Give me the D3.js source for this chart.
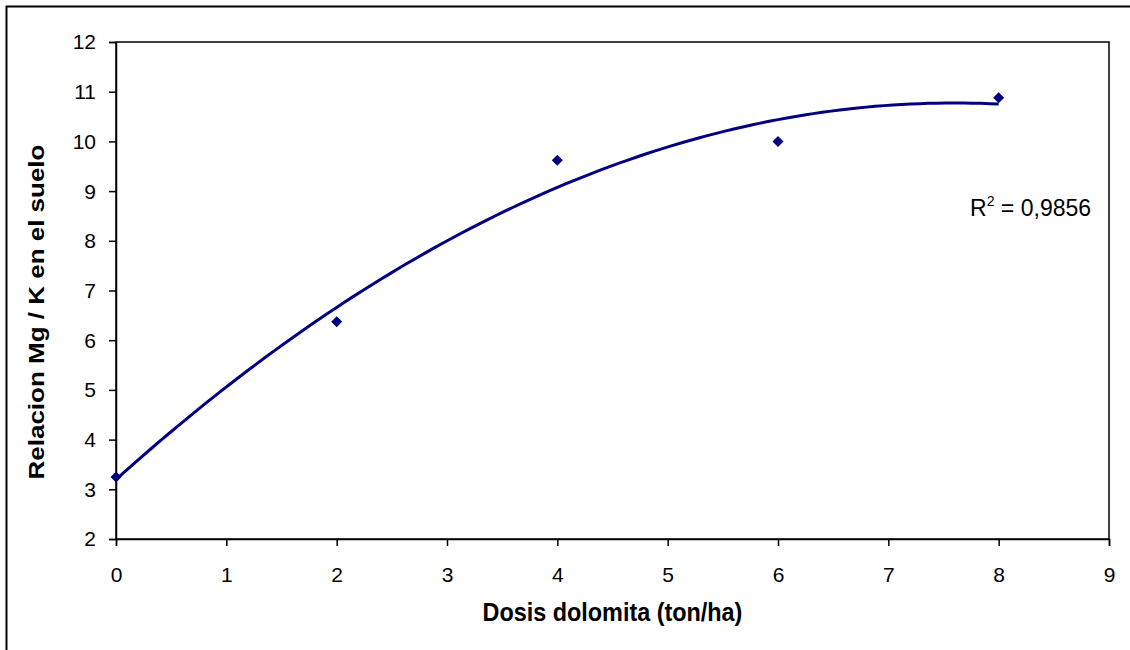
<!DOCTYPE html>
<html>
<head>
<meta charset="utf-8">
<script src="https://cdn.jsdelivr.net/npm/d3@7"></script>
<style>
  html, body { margin: 0; padding: 0; background: #fff; }
  svg { display: block; font-family: Arial, "Liberation Sans", sans-serif; }
</style>
</head>
<body>
<svg id="chart" width="1130" height="650"></svg>
<script>
// ---- data ----
const dosis = [0, 2, 4, 6, 8];
const relacion = [3.25, 6.37, 9.62, 10.0, 10.88];
const xTicks = [0, 1, 2, 3, 4, 5, 6, 7, 8, 9];
const yTicks = [2, 3, 4, 5, 6, 7, 8, 9, 10, 11, 12];
const xTitle = "Dosis dolomita (ton/ha)";
const yTitle = "Relacion Mg / K en el suelo";
const r2Label = "0,9856";

// ---- layout ----
const svg = d3.select("#chart");
const L = 116, R = 1109, T = 42, B = 539;
const x = d3.scaleLinear().domain([0, 9]).range([L, R]);
const y = d3.scaleLinear().domain([2, 12]).range([B, T]);
const FONT = "Arial, 'Liberation Sans', sans-serif";

// outer border (right/bottom edges run off the picture)
svg.append("rect").attr("x", 6.5).attr("y", 6.5).attr("width", 1130).attr("height", 650)
  .attr("fill", "none").attr("stroke", "#000").attr("stroke-width", 2);

// plot area box
svg.append("rect").attr("x", L).attr("y", T).attr("width", R - L).attr("height", B - T)
  .attr("fill", "none").attr("stroke", "#000").attr("stroke-width", 1.5);

// axes
const xAxis = d3.axisBottom(x).tickValues(xTicks).tickSize(7).tickPadding(21).tickFormat(d3.format("d"));
const yAxis = d3.axisLeft(y).tickValues(yTicks).tickSize(7).tickPadding(13).tickFormat(d3.format("d"));
const gx = svg.append("g").attr("transform", `translate(0,${B})`).call(xAxis);
const gy = svg.append("g").attr("transform", `translate(${L},0)`).call(yAxis);
[gx, gy].forEach(g => {
  g.select(".domain").attr("stroke", "#000").attr("stroke-width", 1.5);
  g.selectAll(".tick line").attr("stroke", "#000").attr("stroke-width", 1.5);
  g.selectAll(".tick text").attr("fill", "#000").attr("font-size", 21).attr("font-family", FONT);
});
gy.selectAll(".tick text").attr("dy", "0.33em");

// titles
svg.append("text")
  .attr("transform", `translate(${(L + R) / 2},621) scale(0.9,1)`)
  .attr("text-anchor", "middle").attr("font-size", 26).attr("font-weight", "bold")
  .attr("font-family", FONT).text(xTitle);
svg.append("text")
  .attr("transform", `translate(43.5,312) rotate(-90) scale(1,0.85)`)
  .attr("text-anchor", "middle").attr("font-size", 26).attr("font-weight", "bold")
  .attr("font-family", FONT).text(yTitle);

// polynomial (order 2) trend line: least squares from the data
function polyFit2(xs, ys) {
  const S = [[0,0,0],[0,0,0],[0,0,0]], v = [0,0,0];
  xs.forEach((xi, i) => {
    const p = [1, xi, xi*xi];
    for (let a = 0; a < 3; a++) { v[a] += p[a]*ys[i]; for (let b = 0; b < 3; b++) S[a][b] += p[a]*p[b]; }
  });
  const M = S.map((r, i) => r.concat([v[i]]));
  for (let i = 0; i < 3; i++) {
    for (let k = i + 1; k < 3; k++) {
      const f = M[k][i] / M[i][i];
      for (let j = i; j < 4; j++) M[k][j] -= f * M[i][j];
    }
  }
  const c = [0,0,0];
  for (let i = 2; i >= 0; i--) {
    let s = M[i][3];
    for (let j = i + 1; j < 3; j++) s -= M[i][j] * c[j];
    c[i] = s / M[i][i];
  }
  return c;
}
const coef = polyFit2(dosis, relacion);
const trend = d3.range(0, 8.0001, 0.08).map(t => [t, coef[0] + coef[1]*t + coef[2]*t*t]);
svg.append("path").datum(trend)
  .attr("fill", "none").attr("stroke", "#000080").attr("stroke-width", 3)
  .attr("stroke-linejoin", "round")
  .attr("d", d3.line().x(d => x(d[0])).y(d => y(d[1])));

// markers (diamonds)
svg.append("g").selectAll("path").data(dosis.map((d, i) => [d, relacion[i]])).join("path")
  .attr("transform", d => `translate(${x(d[0])},${y(d[1])})`)
  .attr("d", "M0,-5.5L5.5,0L0,5.5L-5.5,0Z")
  .attr("fill", "#000080");

// R² label
const r2 = svg.append("text")
  .attr("transform", "translate(970,216) scale(0.94,1)")
  .attr("font-size", 24.5).attr("font-family", FONT).attr("fill", "#000");
r2.append("tspan").text("R");
r2.append("tspan").attr("dy", -10).attr("font-size", 15).text("2");
r2.append("tspan").attr("dy", 10).text(" = " + r2Label);
</script>
</body>
</html>
